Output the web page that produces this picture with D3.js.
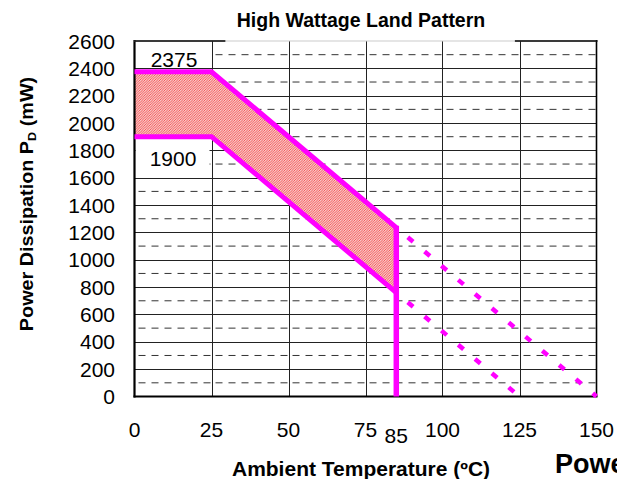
<!DOCTYPE html>
<html>
<head>
<meta charset="utf-8">
<script src="https://cdn.jsdelivr.net/npm/d3@7"></script>
<style>
  body { margin: 0; background: #fff; overflow: hidden; }
  svg { display: block; font-family: "Liberation Sans", Arial, sans-serif; }
</style>
</head>
<body>
<div id="chart"></div>
<script>
// derating curve data
var bandTemps = [0, 25, 85];
var upperPd = [2375, 2375, 1235];
var lowerPd = [1900, 1900, 760];
var upperExtTemps = [85, 150];
var upperExtPd = [1235, 0];
var lowerExtTemps = [85, 125];
var lowerExtPd = [760, 0];
var xTicks = [0, 25, 50, 75, 100, 125, 150];
var yTicks = d3.range(0, 2601, 200);
var minorY = d3.range(100, 2600, 200);
var magenta = "#ff00ff";

var width = 617, height = 479;
var x = d3.scaleLinear().domain([0, 150]).range([134.5, 596.5]);
var y = d3.scaleLinear().domain([0, 2600]).range([396.5, 41]);

var svg = d3.select("#chart").append("svg")
    .attr("width", width)
    .attr("height", height);

// fine hatch pattern
var pat = svg.append("defs").append("pattern")
    .attr("id", "hatch")
    .attr("patternUnits", "userSpaceOnUse")
    .attr("width", 2.5).attr("height", 2.5);
pat.append("rect").attr("width", 2.5).attr("height", 2.5).attr("fill", "#fff");
pat.append("path")
    .attr("d", "M-1,1 l2,-2 M0,2.5 l2.5,-2.5 M1.5,3.5 l2,-2")
    .attr("stroke", "#f03a3a").attr("stroke-width", 0.9);

// dashed minor gridlines, one per cell so dashes restart
var cells = d3.pairs(xTicks);
minorY.forEach(function(v) {
  svg.selectAll(null).data(cells).enter().append("line")
      .attr("x1", function(d) { return x(d[0]) + 4; })
      .attr("x2", function(d) { return x(d[1]); })
      .attr("y1", y(v)).attr("y2", y(v))
      .attr("stroke", "#333").attr("stroke-width", 1)
      .attr("stroke-dasharray", "7,6");
});

// solid horizontal gridlines
svg.selectAll(".hgrid").data(yTicks.filter(function(d) { return d > 0 && d < 2600; }))
  .enter().append("line")
    .attr("class", "hgrid")
    .attr("x1", x(0)).attr("x2", x(150))
    .attr("y1", function(d) { return Math.round(y(d)) + 0.5; })
    .attr("y2", function(d) { return Math.round(y(d)) + 0.5; })
    .attr("stroke", "#222").attr("stroke-width", 1);

// vertical gridlines
svg.selectAll(".vgrid").data(xTicks.slice(1, -1))
  .enter().append("line")
    .attr("class", "vgrid")
    .attr("x1", function(d) { return Math.round(x(d)) + 0.5; })
    .attr("x2", function(d) { return Math.round(x(d)) + 0.5; })
    .attr("y1", y(2600)).attr("y2", y(0))
    .attr("stroke", "#222").attr("stroke-width", 1);

// label boxes
svg.append("rect")
    .attr("x", x(0) + 1).attr("y", y(2600) + 1)
    .attr("width", x(25) - x(0) - 1.5).attr("height", 25)
    .attr("fill", "#fff");
svg.append("rect")
    .attr("x", x(0) + 1).attr("y", y(1900) + 4)
    .attr("width", x(25) - x(0) - 3).attr("height", 32)
    .attr("fill", "#fff");

// hatched band
var band = bandTemps.map(function(t, i) { return [t, upperPd[i]]; })
  .concat(bandTemps.slice().reverse().map(function(t, i) {
    return [t, lowerPd[lowerPd.length - 1 - i]];
  }));
svg.append("path")
    .attr("d", d3.line().x(function(d) { return x(d[0]); }).y(function(d) { return y(d[1]); })(band) + "Z")
    .attr("fill", "url(#hatch)");

// frame
svg.append("line").attr("x1", x(0)).attr("x2", x(0)).attr("y1", y(2600) - 1).attr("y2", y(0) + 1)
    .attr("stroke", "#000").attr("stroke-width", 2.2);
svg.append("line").attr("x1", x(0) - 1).attr("x2", x(150) + 1).attr("y1", y(0)).attr("y2", y(0))
    .attr("stroke", "#000").attr("stroke-width", 2.2);
svg.append("line").attr("x1", x(150)).attr("x2", x(150)).attr("y1", y(2600) - 1).attr("y2", y(0))
    .attr("stroke", "#000").attr("stroke-width", 1.6);
svg.append("line").attr("x1", x(0)).attr("x2", x(150)).attr("y1", y(2600)).attr("y2", y(2600))
    .attr("stroke", "#ccc").attr("stroke-width", 1.2);
svg.append("line").attr("x1", x(0)).attr("x2", x(29.5)).attr("y1", y(2600)).attr("y2", y(2600))
    .attr("stroke", "#000").attr("stroke-width", 1.6);
svg.append("line").attr("x1", x(123.5)).attr("x2", x(150) + 1).attr("y1", y(2600)).attr("y2", y(2600))
    .attr("stroke", "#000").attr("stroke-width", 1.6);

// curves
var line = d3.line()
    .x(function(d) { return x(d[0]); })
    .y(function(d) { return y(d[1]); });
function pts(ts, vs) { return ts.map(function(t, i) { return [t, vs[i]]; }); }

svg.append("path").datum(pts(upperExtTemps, upperExtPd))
    .attr("d", line).attr("fill", "none")
    .attr("stroke", magenta).attr("stroke-width", 4.5)
    .attr("stroke-dasharray", "7,15").attr("stroke-dashoffset", 7);
svg.append("path").datum(pts(lowerExtTemps, lowerExtPd))
    .attr("d", line).attr("fill", "none")
    .attr("stroke", magenta).attr("stroke-width", 4.5)
    .attr("stroke-dasharray", "7,15").attr("stroke-dashoffset", 7);

svg.append("path").datum(pts(bandTemps, upperPd))
    .attr("d", line).attr("fill", "none")
    .attr("stroke", magenta).attr("stroke-width", 5);
svg.append("path").datum(pts(bandTemps, lowerPd))
    .attr("d", line).attr("fill", "none")
    .attr("stroke", magenta).attr("stroke-width", 5);
svg.append("line")
    .attr("x1", x(85)).attr("x2", x(85))
    .attr("y1", y(upperPd[2]) - 2).attr("y2", y(0))
    .attr("stroke", magenta).attr("stroke-width", 5.5);

// value labels
svg.append("text").attr("x", x(12.5) + 1).attr("y", 67)
    .attr("text-anchor", "middle").attr("font-size", 21).text("2375");
svg.append("text").attr("x", x(12.5)).attr("y", 166)
    .attr("text-anchor", "middle").attr("font-size", 21).text("1900");

// tick labels
svg.selectAll(".ylab").data(yTicks).enter().append("text")
    .attr("class", "ylab")
    .attr("x", 115).attr("y", function(d) { return y(d) + 7.5; })
    .attr("text-anchor", "end").attr("font-size", 21)
    .text(function(d) { return d; });
svg.selectAll(".xlab").data(xTicks).enter().append("text")
    .attr("class", "xlab")
    .attr("x", function(d) { return x(d); }).attr("y", 437)
    .attr("text-anchor", "middle").attr("font-size", 21)
    .text(function(d) { return d; });
svg.append("text").attr("x", x(85)).attr("y", 443)
    .attr("text-anchor", "middle").attr("font-size", 21).text("85");

// titles
svg.append("text").attr("x", 361).attr("y", 26.5)
    .attr("text-anchor", "middle").attr("font-size", 19.5).attr("font-weight", "bold")
    .text("High Wattage Land Pattern");
svg.append("text")
    .attr("transform", "translate(361,476) scale(1.05,1)")
    .attr("text-anchor", "middle").attr("font-size", 20).attr("font-weight", "bold")
    .text("Ambient Temperature (ºC)");
svg.append("text").attr("x", 555).attr("y", 473)
    .attr("font-size", 27).attr("font-weight", "bold").text("Powe");

var yt = svg.append("text")
    .attr("transform", "translate(33,204) rotate(-90) scale(1.1,1)")
    .attr("text-anchor", "middle").attr("font-size", 18).attr("font-weight", "bold");
yt.append("tspan").text("Power Dissipation P");
yt.append("tspan").attr("font-size", 11.5).attr("dy", 3).text("D");
yt.append("tspan").attr("dy", -3).text(" (mW)");
</script>
</body>
</html>
